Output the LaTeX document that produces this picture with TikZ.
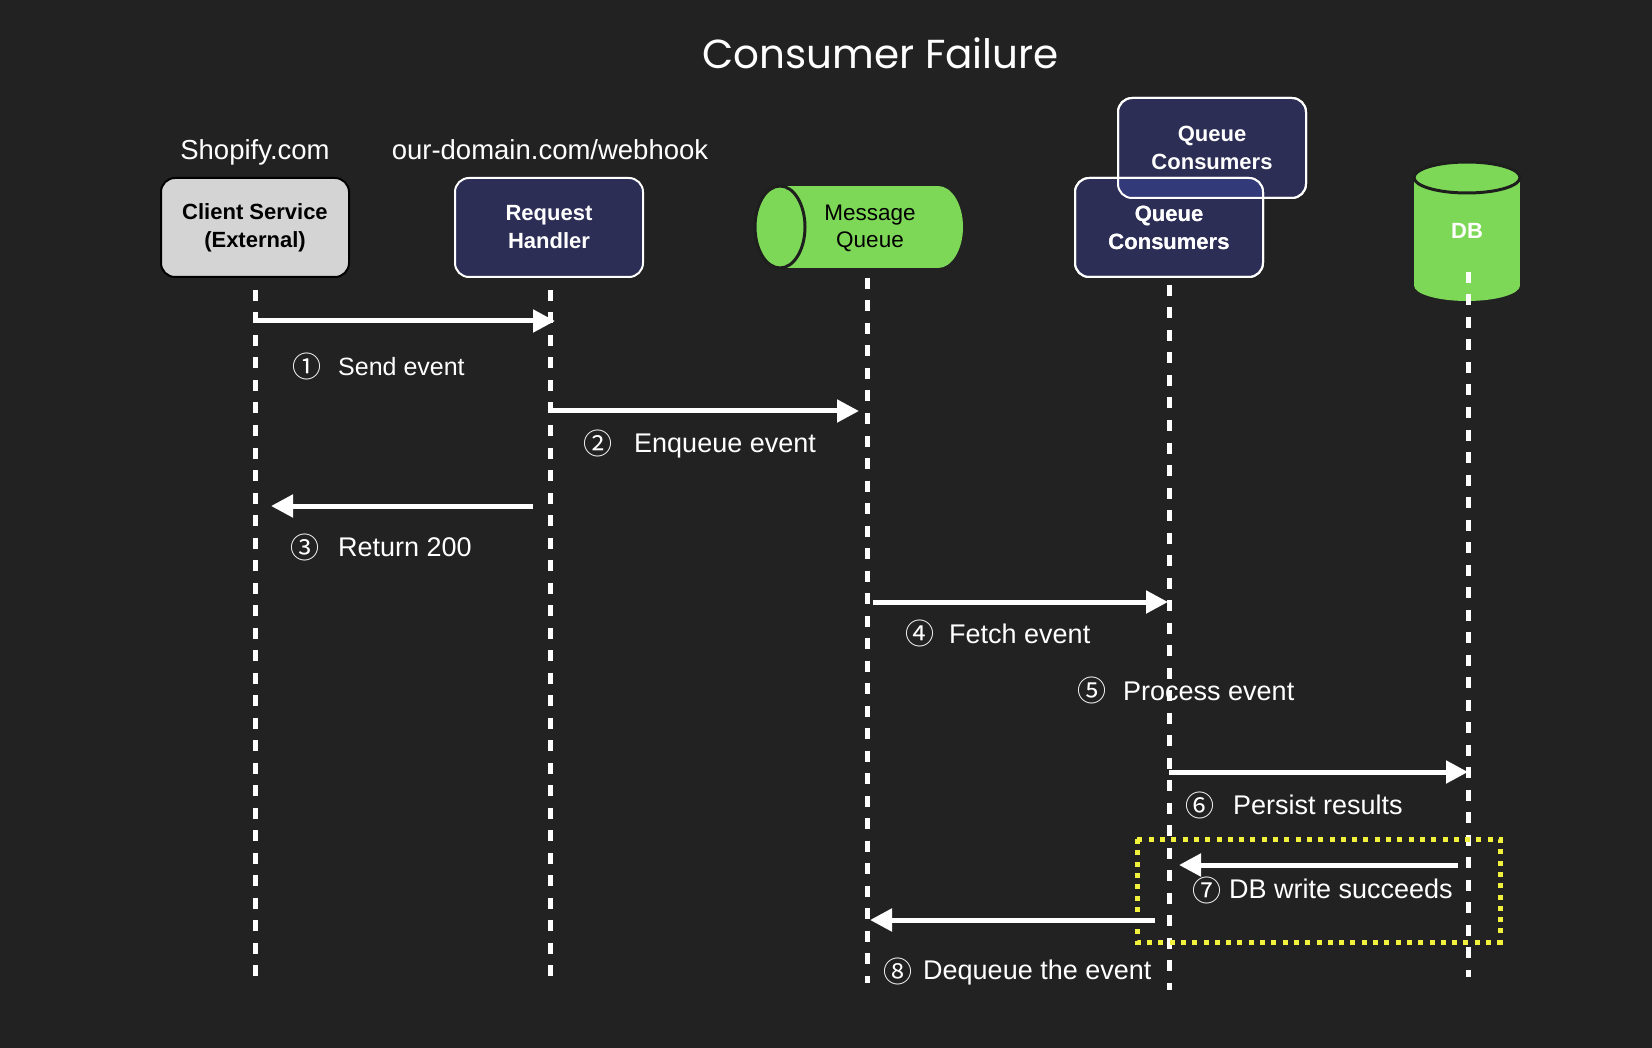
\documentclass[tikz,border=0pt]{standalone}
\usepackage{fontspec}
\setmainfont{Liberation Sans}
\newfontfamily\circfont{Noto Sans CJK SC}
\newfontfamily\titlefont{Poppins}
\usetikzlibrary{arrows.meta}
\definecolor{bg}{HTML}{222222}
\definecolor{navy}{HTML}{2C2E56}
\definecolor{overlap}{HTML}{333A7A}
\definecolor{mqgreen}{HTML}{7ED857}
\definecolor{lightgray}{HTML}{D4D4D4}
\definecolor{hiyellow}{HTML}{F2F23C}
\definecolor{darkline}{HTML}{1E1E1E}
\tikzset{
  actorbox/.style={rectangle, rounded corners=14pt, minimum width=188pt, minimum height=99pt,
     align=center, inner sep=0pt, font=\fontsize{22}{28}\selectfont\bfseries},
  navybox/.style={actorbox, fill=navy, draw=white, line width=2pt, text=white},
  lifeline/.style={draw=white, line width=5pt, dash pattern=on 11pt off 11.5pt},
  msg/.style={draw=white, line width=5pt, -{Triangle[length=22pt, width=22pt]}},
  num/.style={inner sep=0pt, text=white, font=\circfont\fontsize{29}{29}\selectfont},
  lbl/.style={inner sep=0pt, anchor=base west, text=white, font=\fontsize{27}{30}\selectfont},
  heading/.style={inner sep=0pt, anchor=base, text=white, font=\fontsize{27.5}{30}\selectfont},
}
\begin{document}
\begin{tikzpicture}[x=1pt, y=-1pt]
\fill[bg] (0,0) rectangle (1652,1048);
\useasboundingbox (0,0) rectangle (1652,1048);

% title and headings
\node[inner sep=0pt, anchor=base, text=white, font=\titlefont\fontsize{40.5}{44}\selectfont] (title) at (880.5,69) {Consumer Failure};
\node[heading] (shop) at (255,160) {Shopify.com};
\node[heading] (dom) at (550,160) {our-domain.com/webhook};

% actors
\node[actorbox, fill=lightgray, draw=black, line width=2pt, text=black] (cs) at (255,227.5) {Client Service\\(External)};
\node[navybox] (rh) at (549,227.5) {Request\\Handler};

% queue consumers (stacked)
\node[navybox, minimum height=100pt] (qcb) at (1212,148) {Queue\\Consumers};
\node[navybox] (qc) at (1169,227.5) {Queue\\Consumers};
\begin{scope}
  \clip[rounded corners=14pt] (1118,98) rectangle (1306,198);
  \fill[overlap, rounded corners=14pt] (1075,178) rectangle (1263,277);
\end{scope}
\draw[white, line width=2pt, rounded corners=14pt] (1118,98) rectangle (1306,198);
\draw[white, line width=2pt, rounded corners=14pt] (1075,178) rectangle (1263,277);
\node[text=white, align=center, inner sep=0pt, font=\fontsize{22}{28}\selectfont\bfseries] (qct) at (1169,227.5) {Queue\\Consumers};

% message queue (horizontal cylinder)
\fill[mqgreen] (780,186) rectangle (938,268);
\fill[mqgreen] (938,227) ellipse [x radius=25pt, y radius=41pt];
\filldraw[fill=mqgreen, draw=darkline, line width=3pt] (780,227) ellipse [x radius=25pt, y radius=41pt];
\node[text=black, align=center, inner sep=0pt, font=\fontsize{22.5}{27}\selectfont] (mq) at (870,228) {Message\\Queue};

% database (vertical cylinder)
\fill[mqgreen] (1414,177.5) rectangle (1520,285.5);
\fill[mqgreen] (1467,285.5) ellipse [x radius=53pt, y radius=15.5pt];
\filldraw[fill=mqgreen, draw=darkline, line width=3pt] (1467,177.5) ellipse [x radius=53pt, y radius=15.5pt];
\node[text=white, inner sep=0pt, font=\fontsize{22}{26}\selectfont\bfseries] (db) at (1467,231) {DB};

% lifelines
\coordinate (cs-t) at (255,290);  \coordinate (cs-b) at (255,979);
\coordinate (rh-t) at (550,290);  \coordinate (rh-b) at (550,977);
\coordinate (mq-t) at (867,278);  \coordinate (mq-b) at (867,983);
\coordinate (qc-t) at (1169,285); \coordinate (qc-b) at (1169,990);
\coordinate (db-t) at (1468,272); \coordinate (db-b) at (1468,977);
\draw[lifeline] (cs-t) -- (cs-b);
\draw[lifeline] (rh-t) -- (rh-b);
\draw[lifeline] (mq-t) -- (mq-b);
\draw[lifeline] (qc-t) -- (qc-b);
\draw[lifeline] (db-t) -- (db-b);

% highlight box
\draw[hiyellow, line width=5pt, dash pattern=on 5pt off 6.3pt] (1137,839) rectangle (1500,942);

% messages
\coordinate (m1s) at (253,321);  \coordinate (m1e) at (555,321);
\coordinate (m2s) at (553,411);  \coordinate (m2e) at (859,411);
\coordinate (m3s) at (533,506);  \coordinate (m3e) at (271,506);
\coordinate (m4s) at (873,602);  \coordinate (m4e) at (1168,602);
\coordinate (m6s) at (1169,772); \coordinate (m6e) at (1468,772);
\coordinate (m7s) at (1458,865); \coordinate (m7e) at (1179,865);
\coordinate (m8s) at (1155,920); \coordinate (m8e) at (870,920);
\draw[msg] (m1s) -- (m1e);
\draw[msg] (m2s) -- (m2e);
\draw[msg] (m3s) -- (m3e);
\draw[msg] (m4s) -- (m4e);
\draw[msg] (m6s) -- (m6e);
\draw[msg] (m7s) -- (m7e);
\draw[msg] (m8s) -- (m8e);

% labels
\node[num] (n1) at (307,366) {①};
\node[lbl, font=\fontsize{25}{30}\selectfont] (l1) at (338,376) {Send event};
\node[num] (n2) at (598,443) {②};
\node[lbl] (l2) at (634,452) {Enqueue event};
\node[num] (n3) at (305,547) {③};
\node[lbl] (l3) at (338,556) {Return 200};
\node[num] (n4) at (920,633) {④};
\node[lbl] (l4) at (949,643) {Fetch event};
\node[num] (n5) at (1092,690) {⑤};
\node[lbl] (l5) at (1123,700) {Process event};
\node[num] (n6) at (1200,805) {⑥};
\node[lbl] (l6) at (1233,814) {Persist results};
\node[num] (n7) at (1207,890) {⑦};
\node[lbl] (l7) at (1229,898) {DB write succeeds};
\node[num] (n8) at (898,971) {⑧};
\node[lbl] (l8) at (923,979) {Dequeue the event};
\end{tikzpicture}
\end{document}
